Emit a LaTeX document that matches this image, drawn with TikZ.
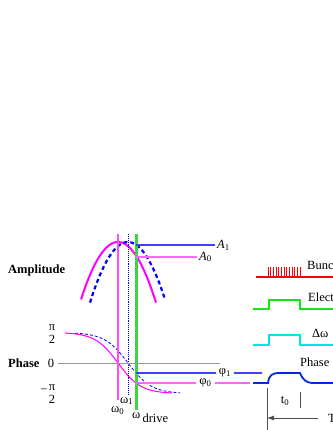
\documentclass[tikz,border=0pt]{standalone}
\usepackage{fontspec}
\setmainfont{Liberation Serif}
\usepackage{tikz}
\usetikzlibrary{positioning,calc,arrows.meta}
\definecolor{ampMag}{RGB}{255,0,255}
\colorlet{lightMag}{ampMag!60!white}
\colorlet{lineMag}{ampMag!70!white}
\definecolor{ampBlue}{RGB}{0,0,255}
\colorlet{lightBlue}{ampBlue!75!white}
\colorlet{zeroGray}{gray!80!white}
\definecolor{driveGreen}{RGB}{60,215,60}
\definecolor{elecGreen}{RGB}{20,230,20}
\definecolor{dwCyan}{RGB}{0,230,230}
\definecolor{phaseBlue}{RGB}{0,40,230}
\definecolor{bunchRed}{RGB}{255,0,0}

\begin{document}
\begin{tikzpicture}[x=1pt, y=-1pt, every node/.style={font=\fontsize{12.5}{14}\selectfont, inner sep=0pt, text=black}, node distance=2pt]
        \useasboundingbox (0,0) rectangle (332,430);

        % resonance curves
        \draw[ampMag, line width=2pt] plot[domain=81:156, samples=50] (\x, {242+59*((\x-118)/37.5)^2});
        \draw[ampBlue, line width=2.2pt, dash pattern=on 4pt off 3pt] plot[domain=90:165, samples=50] (\x, {242+59*((\x-128)/37.5)^2});
        \draw[ampMag, line width=1pt] plot[domain=65:172, samples=60] (\x, {363+30.5*tanh((\x-118)/22.9)});
        \draw[ampBlue, line width=0.8pt, densely dashed] plot[domain=75:180, samples=60] (\x, {363+30.5*tanh((\x-128)/23.5)});

        % frequency markers
        \coordinate (w0top) at (118,234);
        \coordinate (w1top) at (128,234);
        \coordinate (wdtop) at (136,234);
        \draw[lineMag, line width=1.5pt] (w0top) -- (118,400);
        \draw[ampBlue, line width=0.9pt, densely dotted] (w1top) -- (128,395);
        \draw[driveGreen, line width=3pt] (wdtop) -- (136,410);

        \node[anchor=west] (w0) at (111,411) {ω\textsubscript{0}};
        \node[anchor=west] (w1) at (120,401) {ω\textsubscript{1}};
        \node[anchor=west] (wd) at (132,418) {ω\,\raisebox{-4pt}{drive}};

        % amplitude readout
        \coordinate (a1end) at (215,245);
        \coordinate (a0end) at (197,257);
        \draw[lightBlue, line width=1.1pt] (136,245) -- (a1end);
        \draw[lightMag, line width=1.1pt] (136,257) -- (a0end);
        \node[right=2pt of a1end] (A1) {\textit{A}\textsubscript{1}};
        \node[right=2pt of a0end] (A0) {\textit{A}\textsubscript{0}};

        % axis labels
        \node[anchor=west, font=\fontsize{12.5}{14}\selectfont\bfseries] (ampLabel) at (8,270) {Amplitude};
        \node[anchor=west, font=\fontsize{12.5}{14}\selectfont\bfseries] (phaseLabel) at (8,363) {Phase};
        \node (zero) at (51,363) {0};
        \node[align=center, font=\fontsize{12.5}{13}\selectfont] (piHalf) at (52,334) {π\\2};
        \node[align=center, font=\fontsize{12.5}{13}\selectfont] (mpiHalf) at (52,394) {π\\2};
        \node[left=1pt of mpiHalf.north west, anchor=north east, yshift=-4pt] (minus) {−};

        % phase readout
        \draw[zeroGray, line width=1pt] (58,363) -- (220,363);
        \draw[lightBlue, line width=1.1pt] (136,373) -- node[pos=0.705, fill=white, inner xsep=3pt] (phi1) {φ\textsubscript{1}} (262,373);
        \draw[lightMag, line width=1.1pt] (136,383) -- node[pos=0.61, fill=white, inner xsep=3pt] (phi0) {φ\textsubscript{0}} (250,383);

        % time signals
        \draw[bunchRed, line width=1.3pt] (256,277) -- (335,277);
        \foreach \i in {0,...,12}
            \draw[bunchRed, line width=0.8pt] (268+\i*2.667,277) -- ++(0,-10);
        \node[anchor=west] (bunch) at (307,265) {Bunch};

        \draw[elecGreen, line width=1.5pt] (253,309) -- (269,309) -- (269,300) -- (300,300) -- (300,309) -- (335,309);
        \node[anchor=west] (elec) at (308,297) {Electron};

        \draw[dwCyan, line width=1.5pt] (253,345) -- (269,345) -- (269,335) -- (300,335) -- (300,345) -- (335,345);
        \node[anchor=west] (dw) at (312,333) {Δω};

        \draw[phaseBlue, line width=1.8pt] (253,383) -- (268,383) .. controls (269,375) and (272,373) .. (280,373) -- (300,373) .. controls (303,380) and (306,383) .. (314,383) -- (335,383);
        \node[anchor=west] (phaseSig) at (300,362) {Phase};

        % pulse timing
        \coordinate (t0start) at (267,418);
        \draw[black!70, line width=0.7pt] (267,388) -- (267,432);
        \draw[black!70, line width=0.7pt] (300,392) -- (300,408);
        \node (t0) at (285,401) {t\textsubscript{0}};
        \draw[black!70, line width=0.7pt, -{Latex[length=7pt,width=5pt]}] (318,418) -- (t0start);
        \node[anchor=west] (tLabel) at (328,418) {T};
    \end{tikzpicture}
\end{document}
